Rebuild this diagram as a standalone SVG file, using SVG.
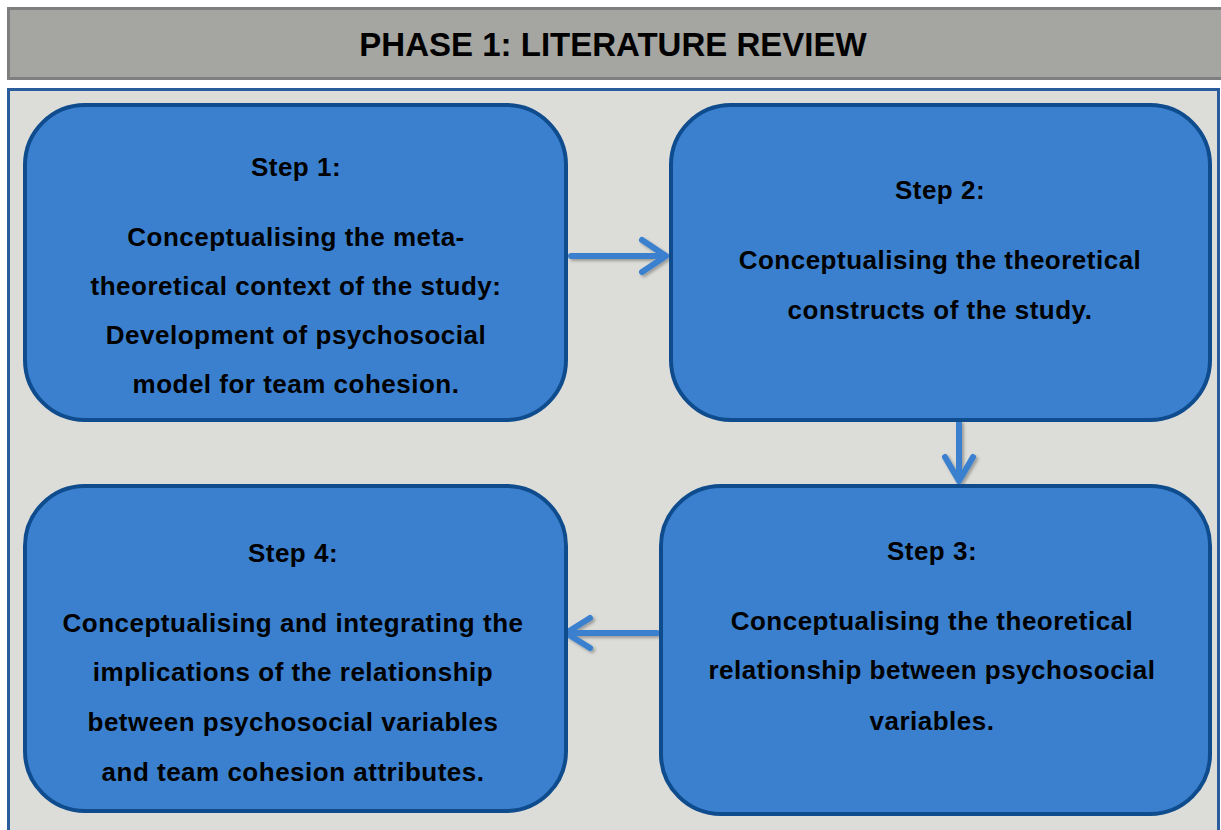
<svg xmlns="http://www.w3.org/2000/svg" width="1221" height="830" viewBox="0 0 1221 830">
  <defs>
    <style>
      .step { fill: #3a80cf; stroke: #0f4c8e; stroke-width: 4; }
      .txt { font-family: "Liberation Sans", Arial, sans-serif; font-weight: bold; font-size: 26px; letter-spacing: 0.5px; fill: #000; text-anchor: middle; }
      .title { font-family: "Liberation Sans", Arial, sans-serif; font-weight: bold; font-size: 33px; fill: #000; text-anchor: middle; }
      .arrow { fill: none; stroke: #3a80cf; stroke-width: 6; stroke-linecap: round; stroke-linejoin: round; }
    </style>
    <filter id="shadow" x="-20%" y="-20%" width="140%" height="140%">
      <feDropShadow dx="2" dy="2" stdDeviation="1.5" flood-color="#000" flood-opacity="0.3"/>
    </filter>
  </defs>

  <rect x="0" y="0" width="1221" height="830" fill="#ffffff"/>

  <!-- Phase header -->
  <g id="header">
    <rect x="8.5" y="8.5" width="1220" height="70" fill="#a5a5a1" stroke="#7f7f7f" stroke-width="3"/>
    <text class="title" x="613" y="56">PHASE 1: LITERATURE REVIEW</text>
  </g>

  <!-- Phase panel -->
  <rect id="panel" x="8.5" y="89.5" width="1210" height="750" fill="#dcdcd8" stroke="#2a5b9a" stroke-width="3"/>

  <!-- Connectors -->
  <g id="connectors" filter="url(#shadow)">
    <path class="arrow" d="M571 256 H666 M642 240 L666 256 L642 272"/>
    <path class="arrow" d="M959 423 V481 M945 457 L959 481 L973 457"/>
    <path class="arrow" d="M657 633 H566 M590 618 L566 633 L590 648"/>
  </g>

  <g id="step1">
    <rect class="step" x="25" y="105" width="541" height="315" rx="60"/>
    <text class="txt" x="296" y="176">Step 1:</text>
    <text class="txt" x="296" y="246">Conceptualising the meta-</text>
    <text class="txt" x="296" y="295">theoretical context of the study:</text>
    <text class="txt" x="296" y="344">Development of psychosocial</text>
    <text class="txt" x="296" y="393">model for team cohesion.</text>
  </g>

  <g id="step2">
    <rect class="step" x="671" y="105" width="539" height="315" rx="60"/>
    <text class="txt" x="940" y="199">Step 2:</text>
    <text class="txt" x="940" y="269">Conceptualising the theoretical</text>
    <text class="txt" x="940" y="319">constructs of the study.</text>
  </g>

  <g id="step3">
    <rect class="step" x="661" y="486" width="549" height="328" rx="60"/>
    <text class="txt" x="932" y="560">Step 3:</text>
    <text class="txt" x="932" y="630">Conceptualising the theoretical</text>
    <text class="txt" x="932" y="679">relationship between psychosocial</text>
    <text class="txt" x="932" y="730">variables.</text>
  </g>

  <g id="step4">
    <rect class="step" x="25" y="486" width="541" height="325" rx="60"/>
    <text class="txt" x="293" y="562">Step 4:</text>
    <text class="txt" x="293" y="632">Conceptualising and integrating the</text>
    <text class="txt" x="293" y="681">implications of the relationship</text>
    <text class="txt" x="293" y="731">between psychosocial variables</text>
    <text class="txt" x="293" y="781">and team cohesion attributes.</text>
  </g>
</svg>
